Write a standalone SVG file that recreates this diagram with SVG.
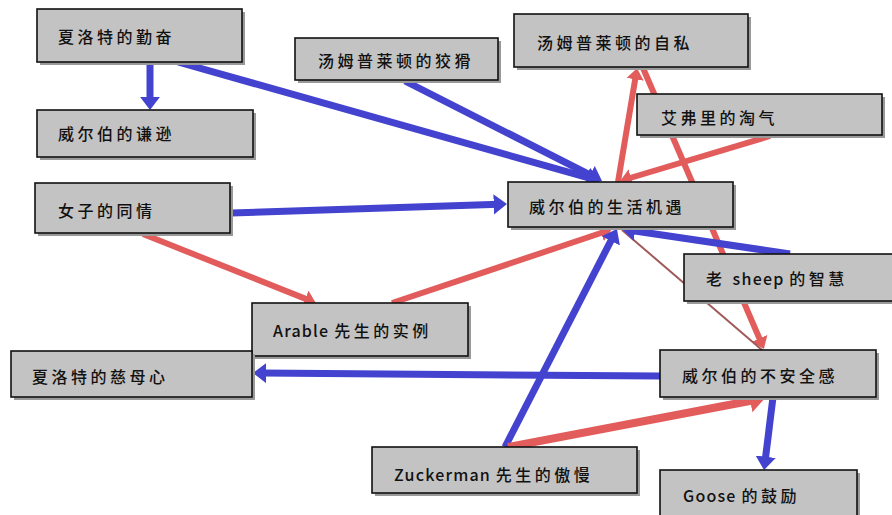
<svg xmlns="http://www.w3.org/2000/svg" width="892" height="515" viewBox="0 0 892 515">
<defs>
<style>
.box{fill:#c3c3c3;stroke:#111;stroke-width:1.6}
.sh{fill:#999}
.t{font-family:"Noto Sans CJK SC","DejaVu Sans",sans-serif;font-size:16px;font-weight:500;fill:#111;letter-spacing:3.5px;dominant-baseline:central}
.l{letter-spacing:1.2px}
.b{stroke:#4343cf;stroke-width:7;fill:none}
.r{stroke:#e25c5c;stroke-width:6;fill:none}
</style>
<marker id="ab" viewBox="0 0 10 10" refX="4" refY="5" markerWidth="1.9" markerHeight="2.9" orient="auto" preserveAspectRatio="none"><path d="M0,0 L10,5 L0,10 z" fill="#4343cf"/></marker>
<marker id="ar" viewBox="0 0 10 10" refX="4" refY="5" markerWidth="1.9" markerHeight="2.9" orient="auto" preserveAspectRatio="none"><path d="M0,0 L10,5 L0,10 z" fill="#e25c5c"/></marker>
</defs>
<rect width="892" height="515" fill="#fff"/>
<g id="connectors">
<line class="r" x1="143" y1="234" x2="309.5" y2="300.4" marker-end="url(#ar)"/>
<line class="r" x1="392" y1="303" x2="605.4" y2="231.5" marker-end="url(#ar)"/>
<line class="r" x1="618" y1="182" x2="635.9" y2="74.9" marker-end="url(#ar)"/>
<line class="r" x1="643" y1="68" x2="761.2" y2="342.6" marker-end="url(#ar)"/>
<line class="r" x1="770" y1="136" x2="626.7" y2="179" marker-end="url(#ar)"/>
<line x1="622" y1="230" x2="762" y2="350" stroke="#a05a5a" stroke-width="2"/>
<line class="b" x1="150" y1="62" x2="150" y2="102" marker-end="url(#ab)"/>
<line class="b" x1="178" y1="62" x2="592.3" y2="178.8" marker-end="url(#ab)"/>
<line class="b" x1="405" y1="81" x2="594.9" y2="177.4" marker-end="url(#ab)"/>
<line class="b" x1="231" y1="213" x2="499" y2="204.3" marker-end="url(#ab)"/>
<line class="b" x1="790" y1="254" x2="629.9" y2="230.2" marker-end="url(#ab)"/>
<line class="b" x1="505" y1="447" x2="613.3" y2="236.1" marker-end="url(#ab)"/>
<line class="b" x1="660" y1="376" x2="261" y2="373.1" marker-end="url(#ab)"/>
<line class="b" x1="773" y1="397" x2="765" y2="462" marker-end="url(#ab)"/>
<line class="r" style="stroke-width:8" x1="508" y1="447" x2="756.2" y2="399.7" marker-end="url(#ar)"/>
</g>
<g id="n1"><rect class="sh" x="40" y="12" width="205" height="53"/><rect class="box" x="37" y="9" width="205" height="53"/><text class="t" x="58" y="36">夏洛特的勤奋</text></g>
<g id="n2"><rect class="sh" x="40" y="113" width="216" height="47"/><rect class="box" x="37" y="110" width="216" height="47"/><text class="t" x="58" y="133">威尔伯的谦逊</text></g>
<g id="n3"><rect class="sh" x="298" y="41" width="203" height="42"/><rect class="box" x="295" y="38" width="203" height="42"/><text class="t" x="318" y="60">汤姆普莱顿的狡猾</text></g>
<g id="n4"><rect class="sh" x="517" y="17" width="234" height="53"/><rect class="box" x="514" y="14" width="234" height="53"/><text class="t" x="537" y="42">汤姆普莱顿的自私</text></g>
<g id="n5"><rect class="sh" x="640" y="97" width="245" height="41"/><rect class="box" x="637" y="94" width="245" height="41"/><text class="t" x="661" y="117">艾弗里的淘气</text></g>
<g id="n6"><rect class="sh" x="38" y="186" width="195" height="50"/><rect class="box" x="35" y="183" width="195" height="50"/><text class="t" x="58" y="210">女子的同情</text></g>
<g id="n7"><rect class="sh" x="511" y="185" width="225" height="45"/><rect class="box" x="508" y="182" width="225" height="45"/><text class="t" x="529" y="206">威尔伯的生活机遇</text></g>
<g id="n8"><rect class="sh" x="687" y="257" width="208" height="47"/><rect class="box" x="684" y="254" width="210" height="47"/><text class="t" x="706" y="278">老 <tspan class="l">sheep </tspan>的智慧</text></g>
<g id="n9"><rect class="sh" x="255" y="306" width="216" height="53"/><rect class="box" x="252" y="303" width="216" height="53"/><text class="t" x="273" y="330"><tspan class="l">Arable </tspan>先生的实例</text></g>
<g id="n10"><rect class="sh" x="14" y="354" width="241" height="46"/><rect class="box" x="11" y="351" width="241" height="46"/><text class="t" x="32" y="376">夏洛特的慈母心</text></g>
<g id="n11"><rect class="sh" x="663" y="353" width="216" height="47"/><rect class="box" x="660" y="350" width="216" height="47"/><text class="t" x="682" y="375">威尔伯的不安全感</text></g>
<g id="n12"><rect class="sh" x="375" y="450" width="265" height="46"/><rect class="box" x="372" y="447" width="265" height="46"/><text class="t" x="394" y="474"><tspan class="l">Zuckerman </tspan>先生的傲慢</text></g>
<g id="n13"><rect class="sh" x="663" y="473" width="197" height="50"/><rect class="box" x="660" y="470" width="197" height="50"/><text class="t" x="683" y="495"><tspan class="l">Goose </tspan>的鼓励</text></g>
</svg>
